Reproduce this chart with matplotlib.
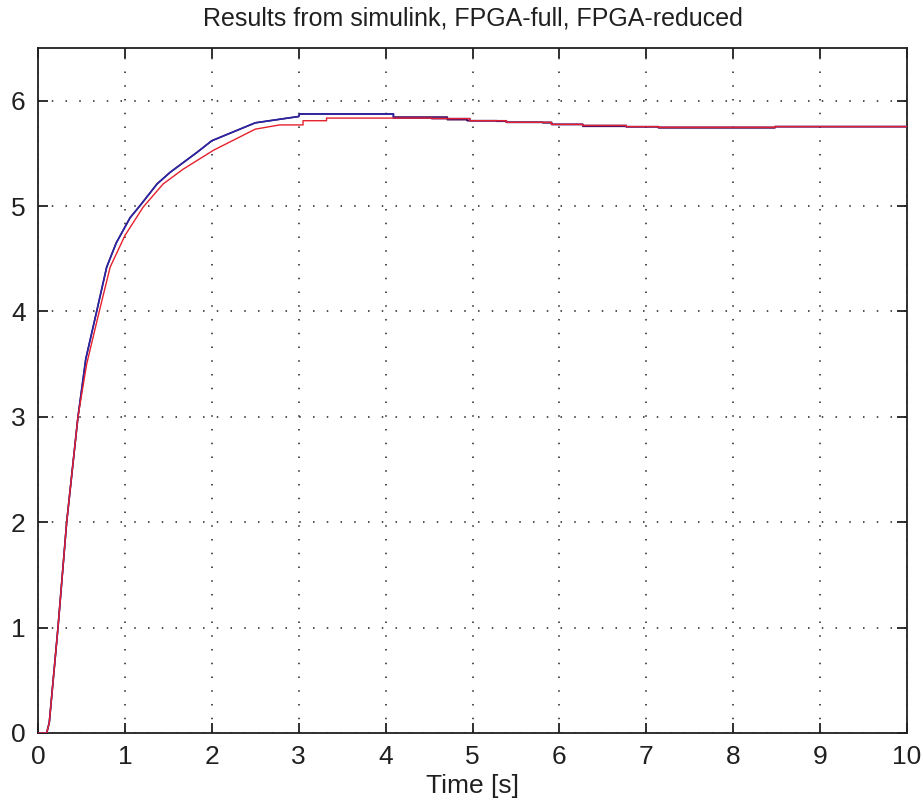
import matplotlib
matplotlib.use("Agg")
import matplotlib.pyplot as plt

# ---- data ----
sim_t = [0.0, 0.10, 0.13, 0.23, 0.33, 0.46, 0.55, 0.675, 0.79, 0.90, 1.06, 1.17, 1.37,
         1.52, 1.83, 2.00, 2.50, 3.00, 3.01, 4.09,
         4.09, 4.53, 4.53, 4.97, 4.97, 5.39, 5.39, 5.91, 5.91, 6.27, 6.27, 6.77, 6.77,
         7.14, 7.14, 8.48, 8.48, 10.0]
sim_y = [0.0, 0.0, 0.10, 1.00, 2.00, 3.00, 3.55, 4.00, 4.42, 4.65, 4.89, 5.00, 5.21,
         5.32, 5.51, 5.62, 5.79, 5.85, 5.874, 5.874,
         5.835, 5.835, 5.83, 5.83, 5.81, 5.81, 5.795, 5.795, 5.775, 5.775, 5.765, 5.765, 5.754,
         5.754, 5.748, 5.748, 5.754, 5.754]

full_t = [0.0, 0.10, 0.13, 0.23, 0.33, 0.46, 0.55, 0.675, 0.79, 0.90, 1.06, 1.17, 1.37,
          1.52, 1.83, 2.00, 2.50, 3.00, 3.01, 4.09,
          4.09, 4.71, 4.71, 4.94, 4.94, 5.28, 5.28, 5.39, 5.39, 5.81, 5.81, 5.91, 5.91, 6.27,
          6.27, 6.77, 6.77, 7.14, 7.14, 8.48, 8.48, 10.0]
full_y = [0.0, 0.0, 0.10, 1.00, 2.00, 3.00, 3.55, 4.00, 4.42, 4.65, 4.89, 5.00, 5.21,
          5.32, 5.51, 5.62, 5.79, 5.85, 5.874, 5.874,
          5.845, 5.845, 5.82, 5.82, 5.81, 5.81, 5.805, 5.805, 5.795, 5.795, 5.79, 5.79, 5.775, 5.775,
          5.757, 5.757, 5.752, 5.752, 5.742, 5.742, 5.754, 5.754]

red_t = [0.0, 0.10, 0.13, 0.23, 0.33, 0.46, 0.56, 0.69, 0.83, 1.00, 1.21, 1.44, 1.67,
         2.02, 2.50, 2.78, 3.05, 3.05, 3.32, 3.32, 4.53, 4.53, 4.97, 4.97, 5.39, 5.39,
         5.91, 5.91, 6.27, 6.27, 6.77, 6.77, 7.14, 7.14, 8.48, 8.48, 10.0]
red_y = [0.0, 0.0, 0.10, 1.00, 2.00, 3.00, 3.50, 3.95, 4.42, 4.72, 4.99, 5.21, 5.35,
         5.53, 5.73, 5.77, 5.77, 5.81, 5.81, 5.835, 5.835, 5.83, 5.83, 5.81, 5.81, 5.795,
         5.795, 5.775, 5.775, 5.765, 5.765, 5.754, 5.754, 5.748, 5.748, 5.754, 5.754]

x_ticks = [0, 1, 2, 3, 4, 5, 6, 7, 8, 9, 10]
y_ticks = [0, 1, 2, 3, 4, 5, 6]

plt.rcParams['font.family'] = ['Liberation Sans', 'DejaVu Sans']

fig = plt.figure(figsize=(9.23, 8.08), dpi=100)
ax = fig.add_axes([38 / 923, 1 - 733 / 808, (907 - 38) / 923, (733 - 48) / 808])

ax.plot(full_t, full_y, color='#4a0a5a', lw=1.2, zorder=3)
ax.plot(sim_t, sim_y, color='#2626a8', lw=1.1, zorder=4)
ax.plot(red_t, red_y, color='#e6202c', lw=1.0, zorder=5)

ax.set_xlim(0, 10)
ax.set_ylim(0, 6.5)
ax.set_xticks(x_ticks)
ax.set_yticks(y_ticks)
ax.grid(True, color='#202020', linestyle=(0, (1, 8)), lw=1.1)
ax.set_axisbelow(True)

ax.tick_params(direction='in', length=7, width=1.3, top=True, right=True,
               labelsize=19, pad=9, colors='#202020')
for s in ax.spines.values():
    s.set_linewidth(1.3)
    s.set_color('#202020')

ax.set_title('Results from simulink, FPGA-full, FPGA-reduced', fontsize=18, pad=16, color='#202020')
ax.set_xlabel('Time [s]', fontsize=19, labelpad=3, color='#202020')

fig.savefig('out.png', dpi=100)
